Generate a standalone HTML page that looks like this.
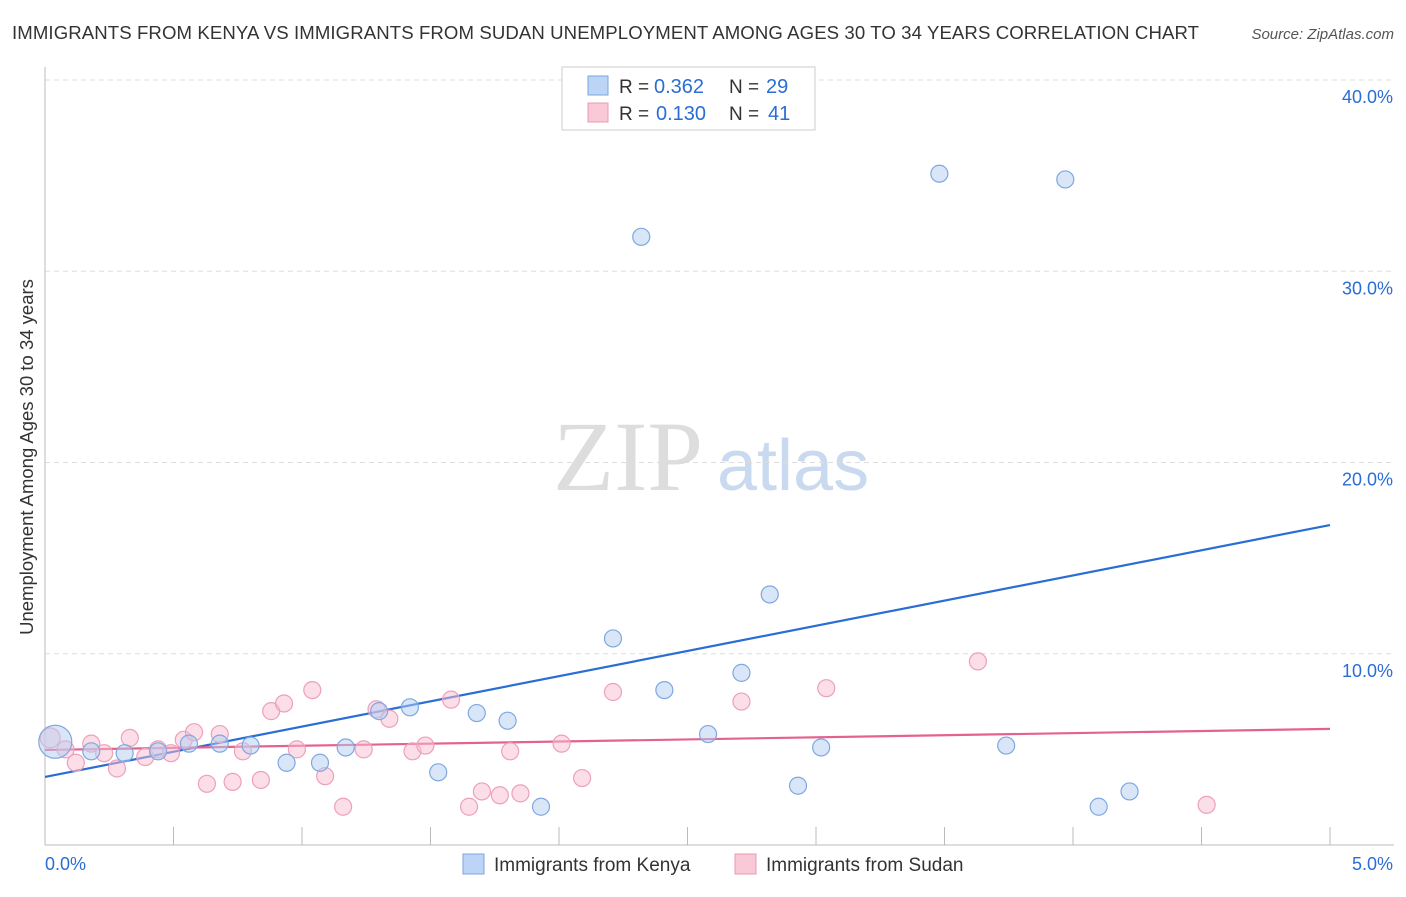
<!DOCTYPE html>
<html><head><meta charset="utf-8">
<style>
body{margin:0;background:#fff;font-family:"Liberation Sans",sans-serif;}
svg text{font-family:"Liberation Sans",sans-serif;}
</style></head>
<body>
<svg id="chart" width="1406" height="892" xmlns="http://www.w3.org/2000/svg">
<text x="12" y="39" font-size="18.6" fill="#333" textLength="1187">IMMIGRANTS FROM KENYA VS IMMIGRANTS FROM SUDAN UNEMPLOYMENT AMONG AGES 30 TO 34 YEARS CORRELATION CHART</text>
<text x="1394" y="39" font-size="15" fill="#555" text-anchor="end" font-style="italic">Source: ZipAtlas.com</text>
<text transform="translate(33,457) rotate(-90)" font-size="18.5" fill="#333" text-anchor="middle">Unemployment Among Ages 30 to 34 years</text>
<g>
<text x="553" y="490" font-size="100" fill="#ddd" style="font-family:'Liberation Serif',serif">ZIP</text>
<text x="717" y="490" font-size="72" fill="#c9d9ef">atlas</text>
</g>
<g id="grid"></g><g id="axes"></g><g id="lines"></g><g id="points"></g>
<g>
<rect x="562" y="67" width="253" height="63" fill="#fff" stroke="#ccc"/>
<rect x="588" y="76" width="20" height="19" fill="#bcd4f5" stroke="#7da6e0"/>
<text x="619" y="93" font-size="19" fill="#333">R =</text>
<text x="654" y="93" font-size="20" fill="#2a6dd4">0.362</text>
<text x="729" y="93" font-size="19" fill="#333">N =</text>
<text x="766" y="93" font-size="20" fill="#2a6dd4">29</text>
<rect x="588" y="103" width="20" height="19" fill="#f9c9d8" stroke="#eb98b3"/>
<text x="619" y="120" font-size="19" fill="#333">R =</text>
<text x="656" y="120" font-size="20" fill="#2a6dd4">0.130</text>
<text x="729" y="120" font-size="19" fill="#333">N =</text>
<text x="768" y="120" font-size="20" fill="#2a6dd4">41</text>
</g>
<g>
<rect x="463" y="854" width="21" height="20" fill="#bcd4f5" stroke="#7da6e0"/>
<text x="494" y="871" font-size="19" fill="#333">Immigrants from Kenya</text>
<rect x="735" y="854" width="21" height="20" fill="#f9c9d8" stroke="#eb98b3"/>
<text x="766" y="871" font-size="19" fill="#333">Immigrants from Sudan</text>
</g>
</svg>
<script>
const yTicks=[10,20,30,40];
const yTickLabels=["10.0%","20.0%","30.0%","40.0%"];
const xTickLabels=["0.0%","5.0%"];
const kenyaX=[0.04,0.18,0.31,0.44,0.56,0.68,0.80,0.94,1.07,1.17,1.30,1.42,1.53,1.68,1.80,1.93,2.21,2.32,2.41,2.58,2.71,2.82,2.93,3.02,3.48,3.74,3.97,4.10,4.22];
const kenyaY=[5.4,4.9,4.8,4.9,5.3,5.3,5.2,4.3,4.3,5.1,7.0,7.2,3.8,6.9,6.5,2.0,10.8,31.8,8.1,5.8,9.0,13.1,3.1,5.1,35.1,5.2,34.8,2.0,2.8];
const sudanX=[0.02,0.08,0.12,0.18,0.23,0.28,0.33,0.39,0.44,0.49,0.54,0.58,0.63,0.68,0.73,0.77,0.84,0.88,0.93,0.98,1.04,1.09,1.16,1.24,1.29,1.34,1.43,1.48,1.58,1.65,1.70,1.77,1.81,1.85,2.01,2.09,2.21,2.71,3.04,3.63,4.52];
const sudanY=[5.6,5.0,4.3,5.3,4.8,4.0,5.6,4.6,5.0,4.8,5.5,5.9,3.2,5.8,3.3,4.9,3.4,7.0,7.4,5.0,8.1,3.6,2.0,5.0,7.1,6.6,4.9,5.2,7.6,2.0,2.8,2.6,4.9,2.7,5.3,3.5,8.0,7.5,8.2,9.6,2.1];
const kenyaSizes=[22];
const kenyaLine=[3.56,16.73];
const sudanLine=[4.97,6.07];
const NS="http://www.w3.org/2000/svg";
const X0=45,X1=1330,Y0=845,YPX=19.125;
function sx(v){return X0+(X1-X0)*v/5;}
function sy(v){return Y0-v*YPX;}
function mk(tag,attrs,parent){const e=document.createElementNS(NS,tag);for(const k in attrs)e.setAttribute(k,attrs[k]);document.getElementById(parent).appendChild(e);return e;}
yTicks.forEach((t,i)=>{
 const g=mk('line',{x1:45,x2:1394,y1:sy(t),y2:sy(t),stroke:'#ddd','stroke-dasharray':'5,4'},'grid');
 
 
 const l=mk('text',{x:1393,y:sy(t)+23,'font-size':18,fill:'#2a6dd4','text-anchor':'end'},'grid');
 l.textContent=yTickLabels[i];
 
 
});
const ya=mk('line',{x1:45,x2:45,y1:67,y2:845,stroke:'#bbb'},'axes');


const xa=mk('line',{x1:45,x2:1394,y1:845,y2:845,stroke:'#bbb'},'axes');


for(let i=1;i<=10;i++){
 const t=mk('line',{x1:sx(i*0.5),x2:sx(i*0.5),y1:827,y2:845,stroke:'#bbb'},'axes');
 
 
}
xTickLabels.forEach((s,i)=>{
 const t=mk('text',{x:i?1393:45,y:870,'font-size':18,fill:'#2a6dd4','text-anchor':i?'end':'start'},'axes');
 t.textContent=s;
 
 
});
sudanX.forEach((x,i)=>{
 const c=mk('circle',{cx:sx(x),cy:sy(sudanY[i]),r:i==0?10:8.5,fill:'rgba(248,190,208,0.5)',stroke:'#eea0b9','stroke-width':1.2},'points');
 
 
});
kenyaX.forEach((x,i)=>{
 const c=mk('circle',{cx:sx(x),cy:sy(kenyaY[i]),r:i==0?kenyaSizes[0]*0.75:8.5,fill:'rgba(180,206,242,0.5)',stroke:'#7ea8e2','stroke-width':1.2},'points');
 
 
});
const bl=mk('line',{x1:sx(0),x2:sx(5),y1:sy(kenyaLine[0]),y2:sy(kenyaLine[1]),stroke:'#2a6dd4','stroke-width':2.2},'lines');


const pl=mk('line',{x1:sx(0),x2:sx(5),y1:sy(sudanLine[0]),y2:sy(sudanLine[1]),stroke:'#e4628e','stroke-width':2.2},'lines');


</script>
</body></html>
